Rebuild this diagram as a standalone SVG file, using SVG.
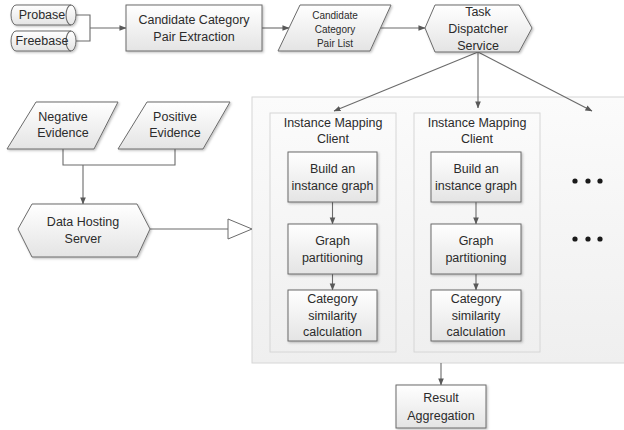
<svg xmlns="http://www.w3.org/2000/svg" width="624" height="430" viewBox="0 0 624 430">
<style>
text{font-family:"Liberation Sans",Arial,sans-serif;font-size:12.5px;fill:#2b2b2b;text-anchor:middle;dominant-baseline:central}
.small{font-size:10px}
.box{fill:url(#gbox);stroke:#6b6b6b;stroke-width:1;filter:url(#sh)}
.conn{fill:none;stroke:#6b6b6b;stroke-width:1.1}
.cont{fill:url(#gcont);stroke:#d6d6d6;stroke-width:1}
.dot{fill:#1a1a1a}
</style>
<defs>
<linearGradient id="gbox" x1="0" y1="0" x2="0" y2="1"><stop offset="0" stop-color="#ffffff"/><stop offset="1" stop-color="#e4e4e4"/></linearGradient>
<linearGradient id="gcont" x1="0" y1="0" x2="0" y2="1"><stop offset="0" stop-color="#fbfbfb"/><stop offset="1" stop-color="#efefef"/></linearGradient>
<filter id="sh" x="-10%" y="-10%" width="125%" height="130%"><feDropShadow dx="1.2" dy="1.2" stdDeviation="0.8" flood-color="#000" flood-opacity="0.25"/></filter>
<marker id="ar" viewBox="0 0 8 8" refX="7.5" refY="4" markerWidth="7" markerHeight="7" markerUnits="userSpaceOnUse" orient="auto"><path d="M0,0.8 L8,4 L0,7.2 Z" fill="#595959"/></marker>
</defs>

<g id="container"><rect class="cont" x="252" y="97" width="380" height="266"/></g>
<g id="client1"><rect class="cont" x="270" y="113" width="126" height="239" stroke="#d0d0d0"/>
<text x="333" y="123">Instance Mapping</text><text x="333" y="139">Client</text></g>
<g id="client2"><rect class="cont" x="414" y="113" width="126" height="239" stroke="#d0d0d0"/>
<text x="477" y="123">Instance Mapping</text><text x="477" y="139">Client</text></g>

<g id="connectors">
<path class="conn" d="M76,15 H90 V41 H76 M90,28 H126" marker-end="url(#ar)"/>
<path class="conn" d="M262,28 H289" marker-end="url(#ar)"/>
<path class="conn" d="M380,28 H425" marker-end="url(#ar)"/>
<path class="conn" d="M478,52 L334,111" marker-end="url(#ar)"/>
<path class="conn" d="M478,52 V108" marker-end="url(#ar)"/>
<path class="conn" d="M478,52 L592,111" marker-end="url(#ar)"/>
<path class="conn" d="M63,149 V165 H175 V149 M83,165 V204" marker-end="url(#ar)"/>
<path class="conn" d="M150,229 H228"/>
<polygon points="228,219 252,229 228,239" fill="#fff" stroke="#6b6b6b" stroke-width="1"/>
<path class="conn" d="M332.5,202 V224" marker-end="url(#ar)"/>
<path class="conn" d="M332.5,274 V290" marker-end="url(#ar)"/>
<path class="conn" d="M476,202 V224" marker-end="url(#ar)"/>
<path class="conn" d="M476,274 V290" marker-end="url(#ar)"/>
<path class="conn" d="M441,363 V385" marker-end="url(#ar)"/>
</g>

<g id="probase"><path class="box" d="M16,5 H71 A5,10 0 0 1 71,25 H16 A5,10 0 0 1 16,5 Z"/><path class="conn" d="M71,5 A5,10 0 0 0 71,25"/><text x="42" y="15">Probase</text></g>
<g id="freebase"><path class="box" d="M16,31 H71 A5,10 0 0 1 71,51 H16 A5,10 0 0 1 16,31 Z"/><path class="conn" d="M71,31 A5,10 0 0 0 71,51"/><text x="42" y="41">Freebase</text></g>

<g id="extraction"><rect class="box" x="126" y="5" width="136" height="46"/><text x="194" y="20">Candidate Category</text><text x="194" y="37">Pair Extraction</text></g>

<g id="pairlist"><polygon class="box" points="300,5 391,5 370,51 278,51"/><text class="small" x="335" y="15">Candidate</text><text class="small" x="335" y="29">Category</text><text class="small" x="335" y="43">Pair List</text></g>

<g id="dispatcher"><polygon class="box" points="425,28 435,5 519,5 532,28 519,52 435,52"/><text x="478" y="12">Task</text><text x="478" y="29">Dispatcher</text><text x="478" y="46">Service</text></g>

<g id="negative"><polygon class="box" points="36,102 118,102 94,149 7,149"/><text x="63" y="117">Negative</text><text x="63" y="133">Evidence</text></g>
<g id="positive"><polygon class="box" points="147,102 230,102 203,149 118,149"/><text x="175" y="117">Positive</text><text x="175" y="133">Evidence</text></g>

<g id="datahost"><polygon class="box" points="18,229 32,204 137,204 150,229 137,257 32,257"/><text x="83" y="222">Data Hosting</text><text x="83" y="239">Server</text></g>

<g id="build1"><rect class="box" x="288" y="152" width="89" height="50"/><text x="332.5" y="169">Build an</text><text x="332.5" y="186">instance graph</text></g>
<g id="part1"><rect class="box" x="288" y="224" width="89" height="50"/><text x="332.5" y="241">Graph</text><text x="332.5" y="258">partitioning</text></g>
<g id="sim1"><rect class="box" x="288" y="290" width="89" height="51"/><text x="332.5" y="299">Category</text><text x="332.5" y="316">similarity</text><text x="332.5" y="332">calculation</text></g>

<g id="build2"><rect class="box" x="431" y="152" width="90" height="50"/><text x="476" y="169">Build an</text><text x="476" y="186">instance graph</text></g>
<g id="part2"><rect class="box" x="431" y="224" width="90" height="50"/><text x="476" y="241">Graph</text><text x="476" y="258">partitioning</text></g>
<g id="sim2"><rect class="box" x="431" y="290" width="90" height="51"/><text x="476" y="299">Category</text><text x="476" y="316">similarity</text><text x="476" y="332">calculation</text></g>

<g id="dots1"><circle class="dot" cx="575" cy="181" r="2.6"/><circle class="dot" cx="588" cy="181" r="2.6"/><circle class="dot" cx="600" cy="181" r="2.6"/></g>
<g id="dots2"><circle class="dot" cx="575" cy="239" r="2.6"/><circle class="dot" cx="588" cy="239" r="2.6"/><circle class="dot" cx="600" cy="239" r="2.6"/></g>

<g id="result"><rect class="box" x="396" y="385" width="90" height="43"/><text x="441" y="398">Result</text><text x="441" y="416">Aggregation</text></g>
</svg>
